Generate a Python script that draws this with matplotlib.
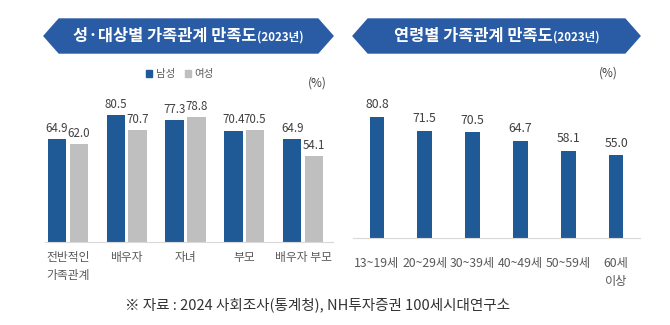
import matplotlib.pyplot as plt
from matplotlib.patches import Polygon, Patch

plt.rcParams['font.family'] = ['Noto Sans CJK KR', 'DejaVu Sans']

# 성·대상별 가족관계 만족도
대상 = ['전반적인\n가족관계', '배우자', '자녀', '부모', '배우자 부모']
남성 = [64.9, 80.5, 77.3, 70.4, 64.9]
여성 = [62.0, 70.7, 78.8, 70.5, 54.1]

# 연령별 가족관계 만족도
연령 = ['13~19세', '20~29세', '30~39세', '40~49세', '50~59세', '60세\n이상']
연령별 = [80.8, 71.5, 70.5, 64.7, 58.1, 55.0]

파랑 = '#1F5A96'
회색 = '#BFBFBF'
배너색 = '#2A5BA5'
글자색 = '#404040'

W, H = 670, 325
fig = plt.figure(figsize=(6.7, 3.25), dpi=100)


def px(x, y):
    return x / W, 1 - y / H


# 왼쪽 차트
ax1 = fig.add_axes([45 / W, 1 - 241.7 / H, 288 / W, 142 / H])
x = range(len(대상))
w = 0.315
b1 = ax1.bar([i - w / 2 - 0.027 for i in x], 남성, w, color=파랑)
b2 = ax1.bar([i + w / 2 + 0.027 for i in x], 여성, w, color=회색)
ax1.bar_label(b1, fmt='%.1f', padding=3, fontsize=8.3, color=글자색)
ax1.bar_label(b2, fmt='%.1f', padding=3, fontsize=8.3, color=글자색)
ax1.set_xlim(-0.39, 4.51)
ax1.set_ylim(0, 90)
ax1.set_xticks(list(x))
ax1.set_xticklabels(대상, fontsize=8.5, color='#595959', linespacing=1.5)
ax1.tick_params(axis='x', length=0, pad=7)

# 오른쪽 차트
ax2 = fig.add_axes([353 / W, 1 - 237.7 / H, 287 / W, 134.7 / H])
x2 = range(len(연령))
b3 = ax2.bar(list(x2), 연령별, 0.31, color=파랑)
ax2.bar_label(b3, fmt='%.1f', padding=4, fontsize=8.8, color=글자색)
ax2.set_xlim(-0.5, 5.5)
ax2.set_ylim(0, 90)
ax2.set_xticks(list(x2))
ax2.set_xticklabels(연령, fontsize=8.8, color='#595959', linespacing=1.5)
ax2.tick_params(axis='x', length=0, pad=14)

for ax in (ax1, ax2):
    ax.set_yticks([])
    for s in ['left', 'right', 'top']:
        ax.spines[s].set_visible(False)
    ax.spines['bottom'].set_color('#D9D9D9')

# 범례
fig.legend(handles=[Patch(color=파랑, label='남성'), Patch(color=회색, label='여성')],
           loc='center', bbox_to_anchor=px(180, 74), ncol=2, frameon=False,
           fontsize=7.5, labelcolor='#595959', handlelength=0.6, handleheight=0.6,
           handletextpad=0.3, columnspacing=1.0)

fig.text(*px(317, 83), '(%)', fontsize=8.5, color=글자색, ha='center', va='center')
fig.text(*px(608, 73), '(%)', fontsize=8.5, color=글자색, ha='center', va='center')

# 제목 배너
def banner(x0, x1, title):
    y0, y1, d = 19, 53, 15
    ym = (y0 + y1) / 2
    pts = [px(x0, ym), px(x0 + d, y0), px(x1 - d, y0), px(x1, ym), px(x1 - d, y1), px(x0 + d, y1)]
    fig.patches.append(Polygon(pts, closed=True, color=배너색, transform=fig.transFigure))
    cx, cy = px((x0 + x1) / 2, ym)
    t1 = fig.text(cx, cy, title, fontsize=11.8, fontweight='bold', color='white',
                  ha='right', va='center')
    t2 = fig.text(cx, cy, '(2023년)', fontsize=8.3, fontweight='bold', color='white',
                  ha='left', va='center')
    r = fig.canvas.get_renderer()
    w1 = t1.get_window_extent(r).width / W
    w2 = t2.get_window_extent(r).width / W
    shift = (w1 - w2) / 2
    t1.set_x(cx + shift)
    t2.set_x(cx + shift)
    t2.set_y(cy - 0.004)


banner(44, 333, '성·대상별 가족관계 만족도')
banner(353, 640, '연령별 가족관계 만족도')

fig.text(*px(125, 305), '※ 자료 : 2024 사회조사(통계청), NH투자증권 100세시대연구소',
         fontsize=10.5, color='#333333', ha='left', va='center')

fig.savefig('out.png', dpi=100)
